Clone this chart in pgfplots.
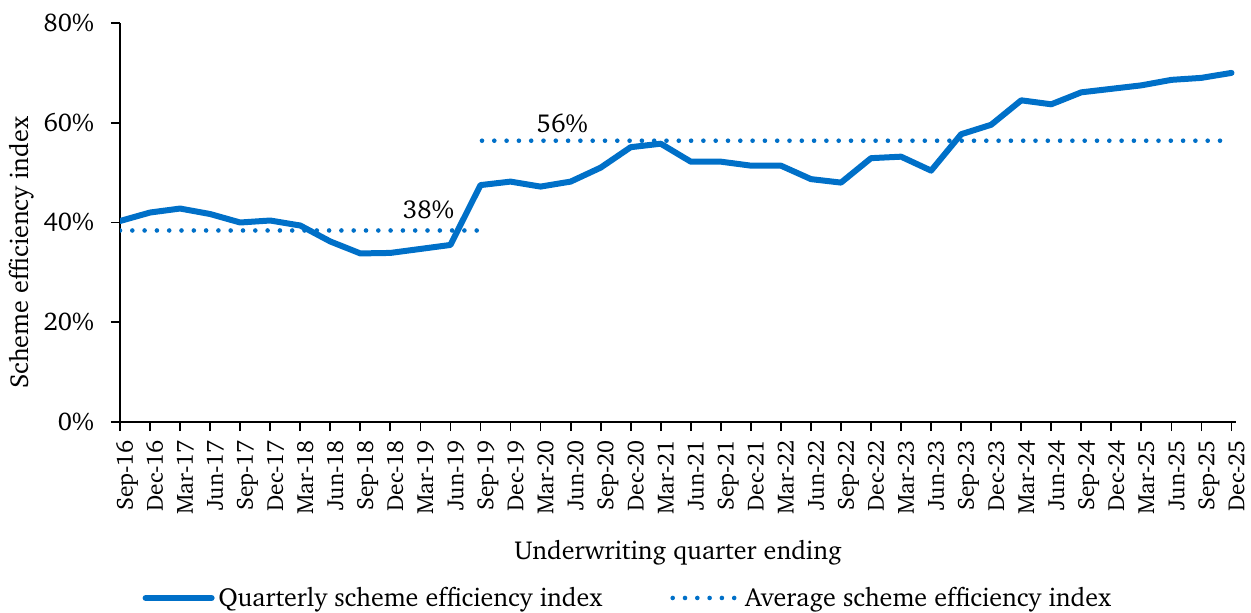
\documentclass[border=0pt]{standalone}
\usepackage[T1]{fontenc}
\renewcommand{\rmdefault}{bch}
\usepackage{pgfplots}
\pgfplotsset{compat=1.18}
\definecolor{lineblue}{HTML}{0070C8}
\newcommand{\chartfont}{\fontsize{13}{15.6}\selectfont}

\begin{document}
\begin{tikzpicture}
\useasboundingbox (0,0) rectangle (625.5pt,306pt);
\begin{axis}[
  at={(60pt,95pt)}, anchor=south west,
  scale only axis, width=558pt, height=199.5pt,
  xmin=0, xmax=37.15, ymin=0, ymax=80,
  xtick={0,...,37},
  xticklabels={Sep-16,Dec-16,Mar-17,Jun-17,Sep-17,Dec-17,Mar-18,Jun-18,Sep-18,Dec-18,Mar-19,Jun-19,Sep-19,Dec-19,Mar-20,Jun-20,Sep-20,Dec-20,Mar-21,Jun-21,Sep-21,Dec-21,Mar-22,Jun-22,Sep-22,Dec-22,Mar-23,Jun-23,Sep-23,Dec-23,Mar-24,Jun-24,Sep-24,Dec-24,Mar-25,Jun-25,Sep-25,Dec-25},
  xticklabel style={font=\fontsize{11.7}{14}\selectfont, xshift=4pt, yshift=-1pt, rotate=90, anchor=mid east},
  ytick={0,20,40,60,80},
  yticklabel={\pgfmathprintnumber{\tick}\%},
  yticklabel style={font=\fontsize{12.8}{15}\selectfont, xshift=-5pt},
  /pgf/number format/assume math mode=true,
  tick label style={color=black},
  axis x line*=bottom, axis y line*=left,
  tick align=outside, major tick length=4.5pt,
  tick style={black, line width=0.9pt},
  axis line style={black, line width=0.9pt},
  xlabel={Underwriting quarter ending},
  ylabel={Scheme efficiency index},
  label style={font=\chartfont},
  xlabel style={at={(axis description cs:0.5,-0.328)}, anchor=center},
  ylabel style={at={(axis description cs:-0.0885,0.424)}, anchor=center},
  legend style={draw=none, fill=none, font=\chartfont, at={(axis description cs:0.456,-0.441)}, anchor=center, legend columns=2, /tikz/every even column/.append style={column sep=32pt}},
  legend cell align=left,
  legend image code/.code={\draw[#1] (0pt,0pt) -- (33pt,0pt);},
]
\addplot[lineblue, line width=3pt, line cap=round, line join=round] coordinates {
(0,40.3) (1,42.0) (2,42.8) (3,41.7) (4,40.0) (5,40.4) (6,39.4) (7,36.2) (8,33.8) (9,33.9)
(10,34.7) (11,35.5) (12,47.5) (13,48.2) (14,47.2) (15,48.2) (16,51.0) (17,55.1) (18,55.8) (19,52.2)
(20,52.2) (21,51.4) (22,51.4) (23,48.7) (24,48.0) (25,52.9) (26,53.2) (27,50.4) (28,57.7) (29,59.6)
(30,64.5) (31,63.7) (32,66.1) (33,66.8) (34,67.5) (35,68.6) (36,69.0) (37,70.0)};
\addlegendentry{Quarterly scheme efficiency index}
\addplot[lineblue, line width=2.3pt, line cap=round, dash pattern=on 0pt off 6.15pt] coordinates {(0,38.4) (12,38.4)};
\addlegendentry{Average scheme efficiency index}
\addplot[lineblue, line width=2.3pt, line cap=round, dash pattern=on 0pt off 6.15pt, forget plot] coordinates {(12.05,56.4) (37,56.4)};
\node[font=\chartfont] at (axis cs:10.27,42.5) {38\%};
\node[font=\chartfont] at (axis cs:14.72,59.9) {56\%};
\end{axis}
\end{tikzpicture}
\end{document}
